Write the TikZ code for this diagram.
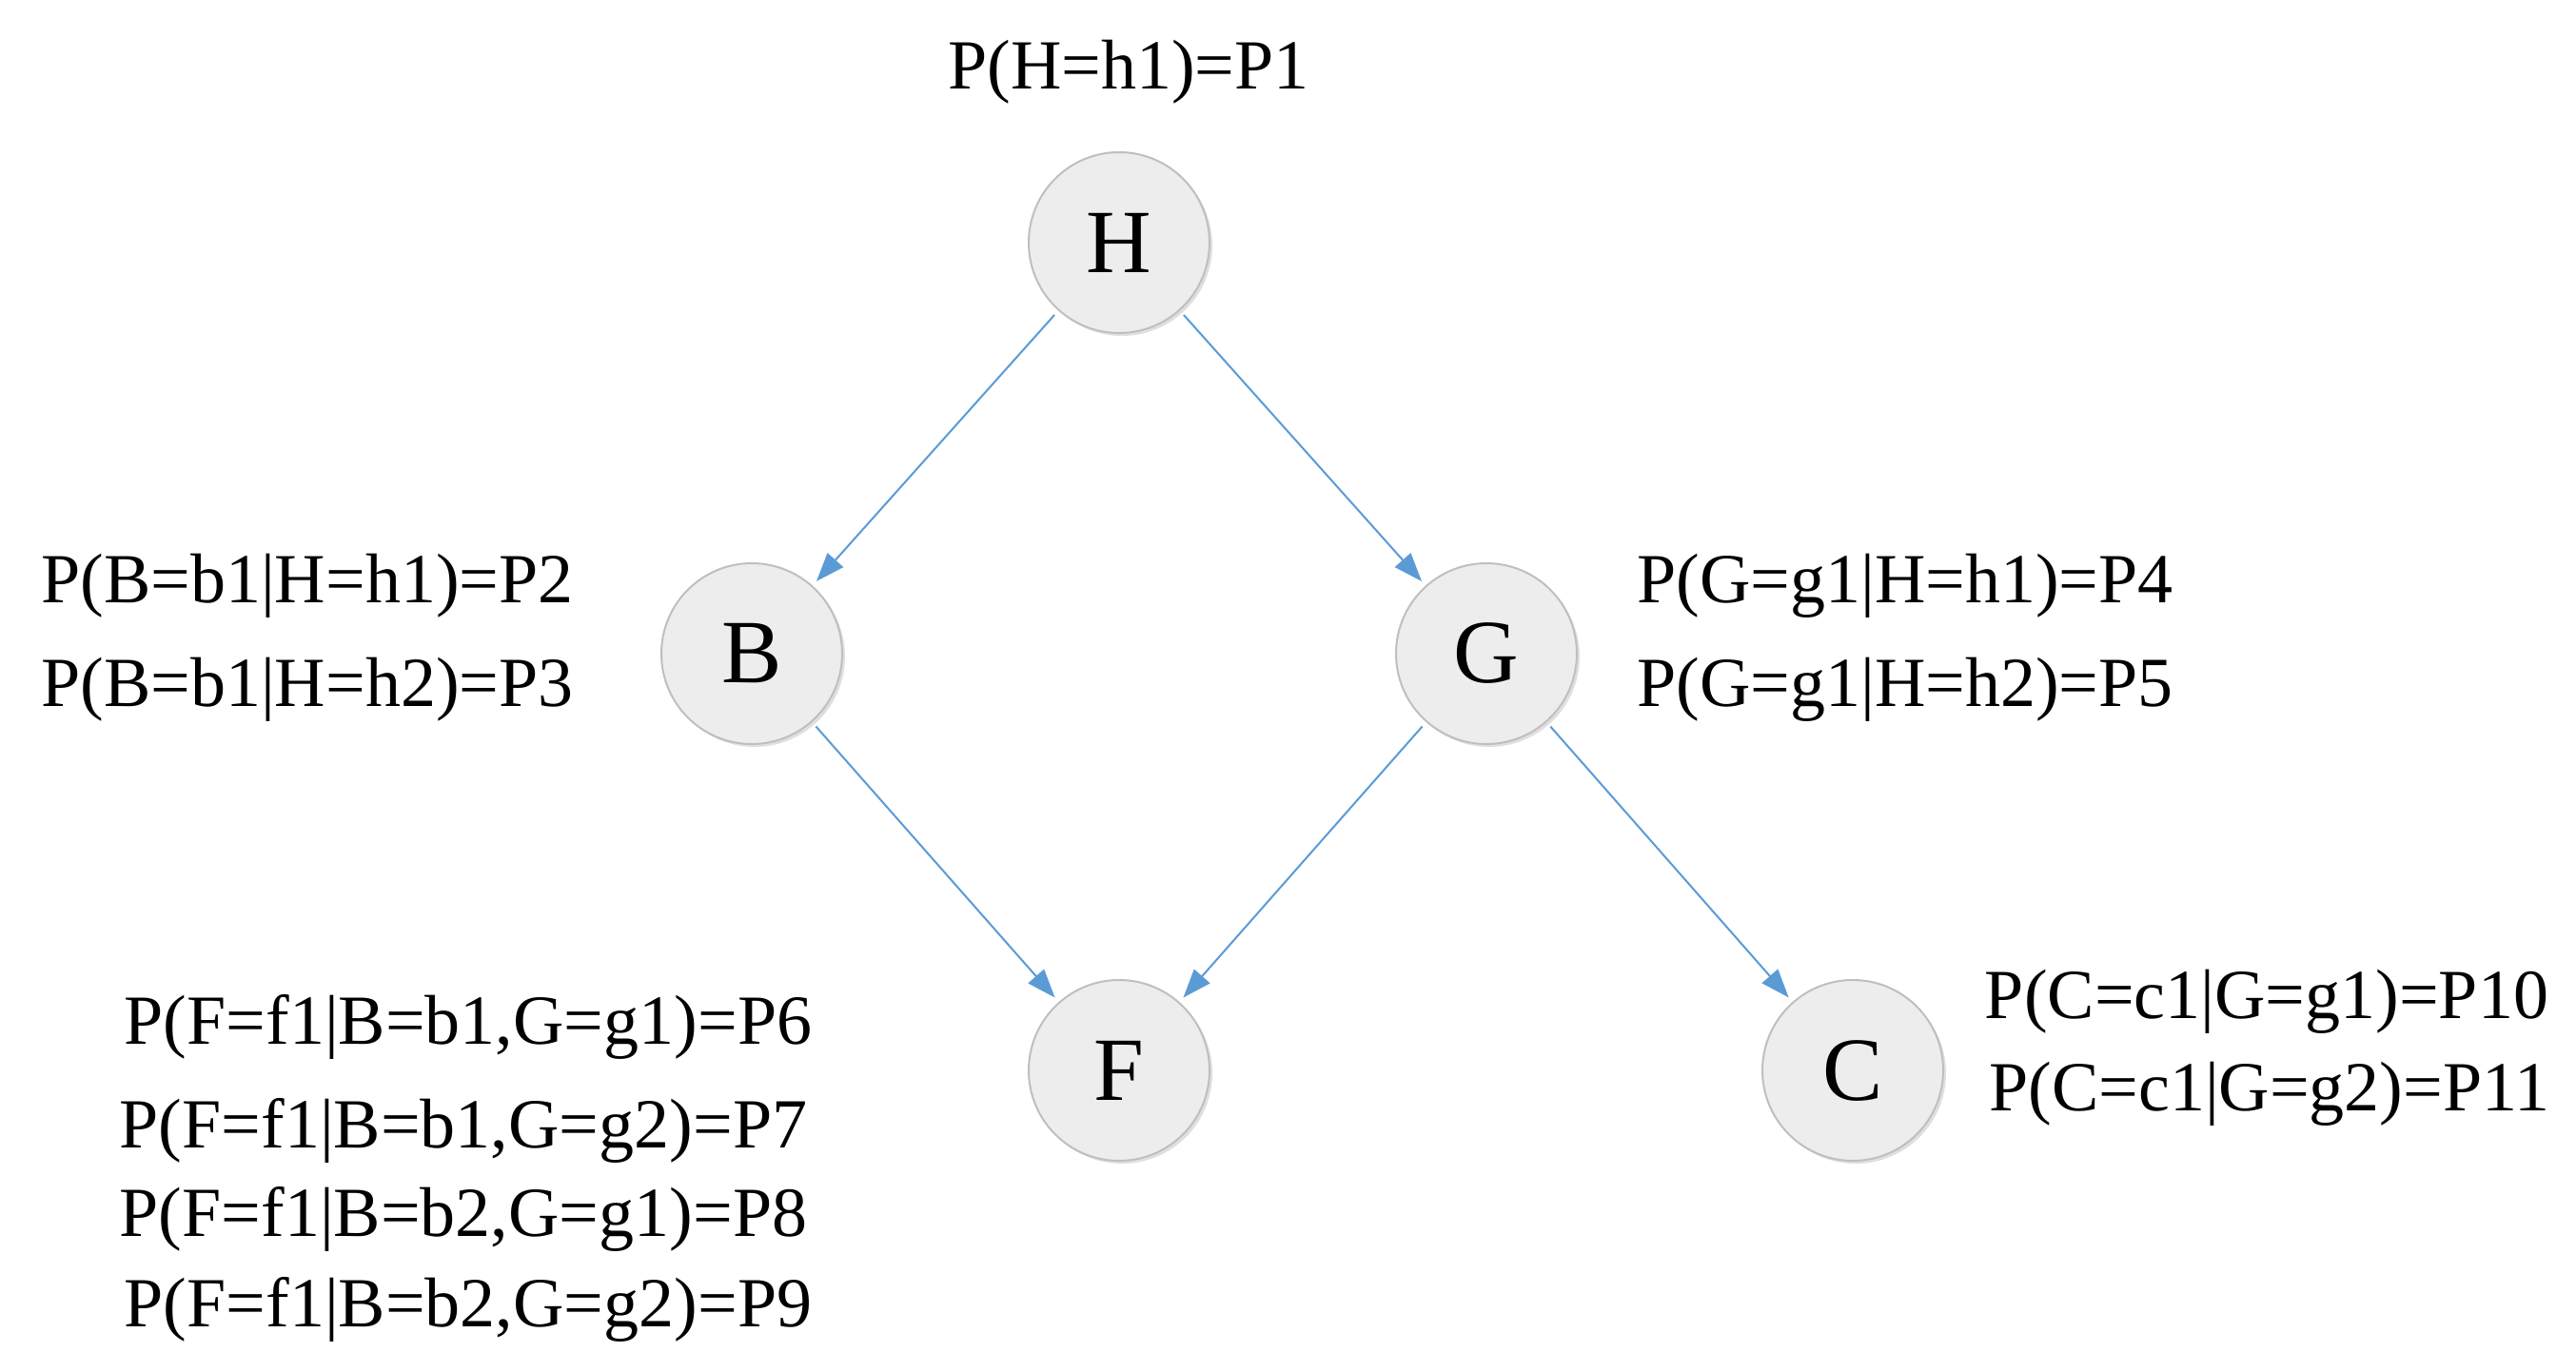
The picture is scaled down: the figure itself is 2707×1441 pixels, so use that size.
\documentclass[tikz,border=0pt]{standalone}
\usepackage{fontspec}
\setmainfont{Liberation Serif}
\usetikzlibrary{arrows.meta,shadows}
\begin{document}
\begin{tikzpicture}[x=1pt,y=-1pt,
  var/.style={circle,draw=black!25,line width=2pt,fill=black!7,minimum size=190pt,inner sep=0pt,font=\fontsize{95}{105}\selectfont,drop shadow={shadow xshift=3pt,shadow yshift=-3pt,opacity=0.25}},
  lab/.style={font=\fontsize{74}{84}\selectfont,inner sep=0pt},
  edge/.style={draw={rgb,255:red,91;green,155;blue,213},line width=2pt,-{Triangle[length=30pt,width=22pt]},shorten >=6pt,shorten <=6pt}]
\useasboundingbox (0,0) rectangle (2707,1441);
\node[var] (H) at (1176,255) {H};
\node[var] (B) at (790,687) {B};
\node[var] (G) at (1562,687) {G};
\node[var] (F) at (1176,1125) {F};
\node[var] (C) at (1947,1125) {C};
\draw[edge] (H) -- (B);
\draw[edge] (H) -- (G);
\draw[edge] (B) -- (F);
\draw[edge] (G) -- (F);
\draw[edge] (G) -- (C);
\node[lab] (l1) at (1186,76) {P(H=h1)=P1};
\node[lab] (l2) at (323,616) {P(B=b1|H=h1)=P2};
\node[lab] (l3) at (323,725) {P(B=b1|H=h2)=P3};
\node[lab] (l4) at (2002,616) {P(G=g1|H=h1)=P4};
\node[lab] (l5) at (2002,725) {P(G=g1|H=h2)=P5};
\node[lab] (l6) at (492,1079) {P(F=f1|B=b1,G=g1)=P6};
\node[lab] (l7) at (487,1188) {P(F=f1|B=b1,G=g2)=P7};
\node[lab] (l8) at (487,1281) {P(F=f1|B=b2,G=g1)=P8};
\node[lab] (l9) at (492,1376) {P(F=f1|B=b2,G=g2)=P9};
\node[lab] (l10) at (2382,1053) {P(C=c1|G=g1)=P10};
\node[lab] (l11) at (2385,1150) {P(C=c1|G=g2)=P11};
\end{tikzpicture}
\end{document}
